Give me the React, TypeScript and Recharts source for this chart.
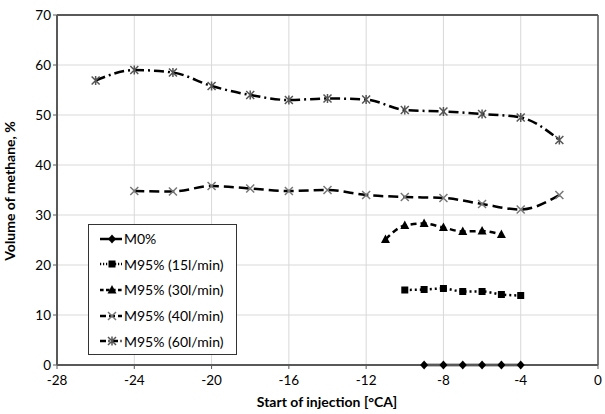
import React from "react";
import { LineChart, Line, XAxis, YAxis, CartesianGrid, ReferenceLine } from "recharts";

/* ── Data ──────────────────────────────────────────────────────── */
const m0X = [-9, -8, -7, -6, -5, -4];
const m0Y = [0, 0, 0, 0, 0, 0];

const m15X = [-10, -9, -8, -7, -6, -5, -4];
const m15Y = [15.0, 15.1, 15.3, 14.7, 14.7, 14.1, 13.9];

const m30X = [-11, -10, -9, -8, -7, -6, -5];
const m30Y = [25.1, 27.9, 28.3, 27.5, 26.7, 26.8, 26.1];

const m40X = [-24, -22, -20, -18, -16, -14, -12, -10, -8, -6, -4, -2];
const m40Y = [34.8, 34.7, 35.8, 35.3, 34.8, 35.0, 34.0, 33.6, 33.4, 32.2, 31.1, 34.0];

const m60X = [-26, -24, -22, -20, -18, -16, -14, -12, -10, -8, -6, -4, -2];
const m60Y = [56.9, 59.0, 58.5, 55.8, 54.0, 53.0, 53.3, 53.1, 51.0, 50.7, 50.2, 49.5, 45.0];

const xTicks = [-28, -24, -20, -16, -12, -8, -4, 0];
const yTicks = [0, 10, 20, 30, 40, 50, 60, 70];

const zip = (xs: number[], ys: number[]) => xs.map((x, i) => ({ x, y: ys[i] }));

const FONT = "Lato, 'Open Sans', sans-serif";
const AXIS = "#595959";

/* ── Markers ───────────────────────────────────────────────────── */
type MarkerKind = "diamond" | "square" | "triangle" | "cross" | "star";

function marker(kind: MarkerKind, cx: number, cy: number, key?: string) {
  switch (kind) {
    case "diamond":
      return <path key={key} d={`M${cx},${cy - 4.5}L${cx + 4},${cy}L${cx},${cy + 4.5}L${cx - 4},${cy}Z`} fill="#000" />;
    case "square":
      return <rect key={key} x={cx - 3.5} y={cy - 3.5} width={7} height={7} fill="#000" />;
    case "triangle":
      return <path key={key} d={`M${cx},${cy - 5}L${cx + 4.5},${cy + 3.5}L${cx - 4.5},${cy + 3.5}Z`} fill="#000" />;
    case "cross":
      return (
        <path key={key} d={`M${cx - 4},${cy - 4}L${cx + 4},${cy + 4}M${cx - 4},${cy + 4}L${cx + 4},${cy - 4}`}
          stroke="#777" strokeWidth={1.5} fill="none" />
      );
    case "star":
      return (
        <path key={key}
          d={`M${cx - 4},${cy - 4}L${cx + 4},${cy + 4}M${cx - 4},${cy + 4}L${cx + 4},${cy - 4}M${cx},${cy - 4.5}L${cx},${cy + 4.5}`}
          stroke="#555" strokeWidth={1.5} fill="none" />
      );
  }
}

const dotFor = (kind: MarkerKind) => (p: any) => marker(kind, p.cx, p.cy, `${kind}-${p.index}`);

const SERIES = [
  { name: "M0%", data: zip(m0X, m0Y), dash: undefined as string | undefined, kind: "diamond" as MarkerKind },
  { name: "M95% (15l/min)", data: zip(m15X, m15Y), dash: "2 3", kind: "square" as MarkerKind },
  { name: "M95% (30l/min)", data: zip(m30X, m30Y), dash: "6 4", kind: "triangle" as MarkerKind },
  { name: "M95% (40l/min)", data: zip(m40X, m40Y), dash: "10 5", kind: "cross" as MarkerKind },
  { name: "M95% (60l/min)", data: zip(m60X, m60Y), dash: "10 4 2 4", kind: "star" as MarkerKind },
];

function LegendBox() {
  return (
    <div style={{ position: "absolute", left: 88, top: 224, border: "1.5px solid #333", background: "#fff", width: 149, height: 131, boxSizing: "border-box", paddingTop: 1 }}>
      {SERIES.map((s) => (
        <div key={s.name} style={{ display: "flex", alignItems: "center", height: 25.6 }}>
          <svg width={24} height={14} style={{ marginLeft: 10, flex: "none" }}>
            <line x1={1} y1={7} x2={23} y2={7} stroke="#000" strokeWidth={2.5}
              strokeDasharray={s.dash ? s.dash.split(" ").map((v) => Number(v) * 0.6).join(" ") : undefined} />
            {marker(s.kind, 13, 7)}
          </svg>
          <span style={{ fontFamily: FONT, fontSize: 14, color: "#000", marginLeft: 1, whiteSpace: "nowrap" }}>{s.name}</span>
        </div>
      ))}
    </div>
  );
}

const yLabel = () => (
  <text x={15} y={191} transform="rotate(-90 15 191)" textAnchor="middle" fill="#000"
    style={{ fontSize: 14, fontWeight: 700, fontFamily: FONT }}>Volume of methane, %</text>
);

const xLabel = () => (
  <text x={327} y={407} textAnchor="middle" fill="#000"
    style={{ fontSize: 14, fontWeight: 700, fontFamily: FONT }}>Start of injection [°CA]</text>
);

export default function App() {
  return (
    <div style={{ position: "absolute", left: 0, top: 0, width: 605, height: 414, background: "#fff" }}>
      <LineChart width={605} height={414} margin={{ top: 15, right: 7, bottom: 19, left: 12 }}>
        <CartesianGrid stroke="#d9d9d9" strokeWidth={1} />
        <XAxis type="number" dataKey="x" domain={[-28, 0]} ticks={xTicks} allowDuplicatedCategory={false}
          axisLine={{ stroke: AXIS, strokeWidth: 2 }} tickLine={{ stroke: AXIS }} tickSize={4} tickMargin={6} height={30}
          tick={{ fill: "#000", fontSize: 13.5, fontFamily: FONT }} label={{ content: xLabel }} />
        <YAxis type="number" domain={[0, 70]} ticks={yTicks} width={45}
          axisLine={{ stroke: AXIS, strokeWidth: 2 }} tickLine={{ stroke: AXIS }} tickSize={4}
          tick={{ fill: "#000", fontSize: 13.5, fontFamily: FONT }} label={{ content: yLabel }} />
        <ReferenceLine y={70} stroke={AXIS} strokeWidth={2} />
        <ReferenceLine x={0} stroke={AXIS} strokeWidth={1.5} />
        {SERIES.map((s) => (
          <Line key={s.name} data={s.data} dataKey="y" name={s.name} type="monotone"
            stroke="#000" strokeWidth={2.5} strokeDasharray={s.dash}
            dot={dotFor(s.kind)} activeDot={false} isAnimationActive={false} />
        ))}
      </LineChart>
      <LegendBox />
    </div>
  );
}
